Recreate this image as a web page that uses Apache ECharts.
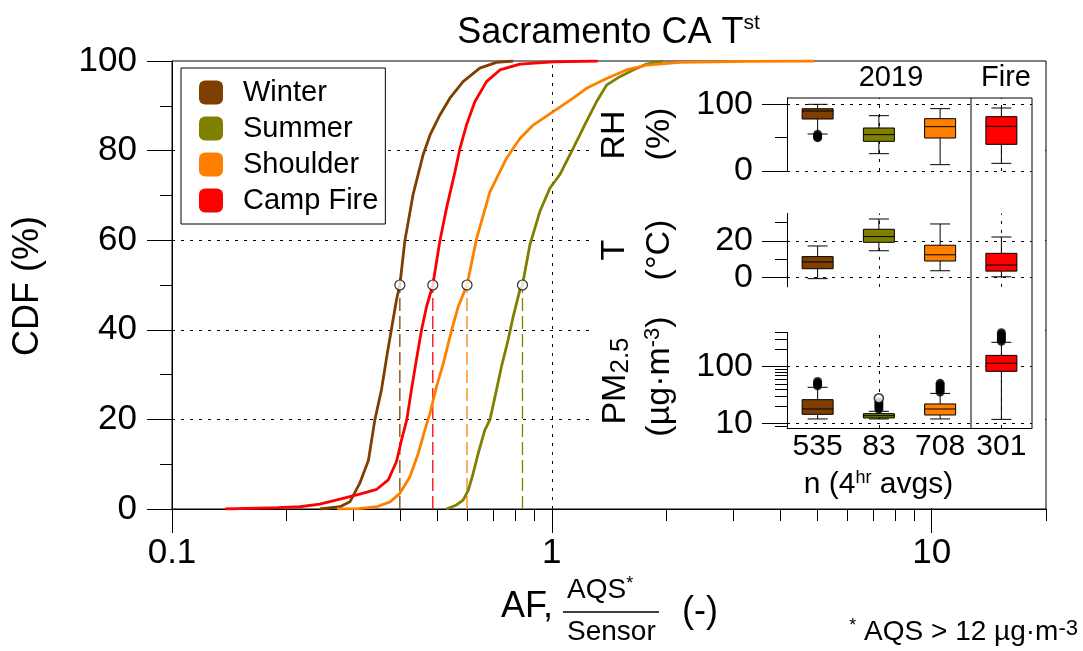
<!DOCTYPE html>
<html>
<head>
<meta charset="utf-8">
<script src="https://cdn.jsdelivr.net/npm/echarts@6/dist/echarts.min.js"></script>
<style>
  html, body { margin: 0; padding: 0; background: #fff; }
  #chart { width: 1083px; height: 651px; }
</style>
</head>
<body>
<div id="chart"></div>
<script>
const FONT = '"Liberation Sans", Arial, Helvetica, sans-serif';

// ---- seasons ----
const seasons = ['Winter', 'Summer', 'Shoulder', 'Camp Fire'];
const seasonColors = ['#7F3F00', '#808000', '#FF8000', '#FF0000'];

// ---- cumulative distributions of AF = AQS / Sensor: [AF, CDF %] ----
const cdfWinter = [
  [0.245, 0], [0.277, 0.5], [0.294, 1.6], [0.312, 5.7], [0.329, 10.9], [0.342, 19.9],
  [0.356, 26.6], [0.369, 34.8], [0.378, 40], [0.390, 46.7], [0.398, 50], [0.410, 59.7],
  [0.431, 70.1], [0.458, 79], [0.478, 83.5], [0.507, 87.9], [0.539, 91.7], [0.584, 95.4],
  [0.646, 98.4], [0.715, 99.7], [0.791, 100]
];
const cdfSummer = [
  [0.528, 0], [0.561, 0.9], [0.584, 2], [0.603, 4.2], [0.621, 8], [0.640, 12.4],
  [0.666, 17.6], [0.687, 19.9], [0.715, 26.6], [0.737, 31.8], [0.767, 37.7], [0.791, 42.9],
  [0.824, 48.9], [0.837, 50], [0.875, 58.9], [0.930, 66.4], [0.988, 71.6], [1.049, 74.6],
  [1.138, 80.5], [1.234, 86.5], [1.311, 90.9], [1.393, 94.6], [1.51, 96.5], [1.637, 98],
  [1.775, 99.3], [1.963, 100]
];
const cdfShoulder = [
  [0.272, 0], [0.31, 0.1], [0.346, 0.5], [0.375, 1.6], [0.398, 3.5], [0.423, 7.2],
  [0.445, 12.4], [0.463, 17.6], [0.478, 21.4], [0.497, 27.3], [0.518, 32.5], [0.545, 40],
  [0.567, 45.2], [0.598, 50], [0.634, 60.4], [0.687, 70.8], [0.76, 78.3], [0.824, 82.7],
  [0.893, 85.7], [1.008, 88.7], [1.138, 91.7], [1.234, 93.9], [1.393, 96.1], [1.572, 98],
  [1.775, 99.1], [2.17, 99.7], [3.3, 99.9], [4.9, 100]
];
const cdfFire = [
  [0.138, 0], [0.19, 0.3], [0.217, 0.5], [0.245, 1.1], [0.277, 2.2], [0.312, 3.3],
  [0.346, 4.4], [0.371, 6.5], [0.390, 10.6], [0.402, 15.4], [0.415, 19.9], [0.427, 26.6],
  [0.440, 33.3], [0.454, 40], [0.468, 45.2], [0.486, 50], [0.507, 59.7], [0.528, 67.1],
  [0.556, 75.3], [0.573, 80.5], [0.596, 85.7], [0.627, 90.9], [0.673, 95.4], [0.730, 98],
  [0.824, 99.3], [1.008, 99.8], [1.32, 100]
];
const cdfSets = [cdfWinter, cdfSummer, cdfShoulder, cdfFire];
const medianAF = [0.398, 0.837, 0.598, 0.486];

// ---- main axis ticks ----
const afMajorTicks = [0.1, 1, 10];
const afMinorTicks = [0.2, 0.3, 0.4, 0.5, 0.6, 0.7, 0.8, 0.9, 2, 3, 4, 5, 6, 7, 8, 9, 20];
const cdfGridValues = [20, 40, 60, 80];
const afGridValues = [1, 10];

// ---- inset box plots: [low whisker, Q1, median, Q3, high whisker] ----
const boxCategories = ['535', '83', '708', '301'];
const rhBoxes = [[55.5, 78, 90, 93.4, 100], [26, 44.5, 54.5, 64.5, 83], [9.5, 49.5, 66.5, 78.5, 93.5], [11.5, 40, 67, 81.5, 94.5]];
const tBoxes = [[-0.5, 4.9, 8.6, 11.5, 17.3], [14.7, 19.3, 22.4, 26.4, 32], [3.8, 9.1, 12.5, 17.7, 29.3], [0.5, 3.6, 6.9, 13.3, 22.2]];
const pmBoxes = [[12.1, 14.6, 18.1, 26.4, 43.5], [12.1, 12.6, 13.8, 15, 16.5], [12.1, 14.2, 18.1, 22.2, 34], [11.9, 83, 115, 158, 268]];
const rhOutliers = [[0, 55], [0, 53], [0, 51], [0, 50]];
const pmOutliers = [
  [0, 46], [0, 49], [0, 52], [0, 55],
  [1, 18], [1, 19.5], [1, 21], [1, 22.5], [1, 24],
  [2, 36], [2, 39], [2, 42], [2, 45], [2, 48], [2, 51],
  [3, 280], [3, 300], [3, 320], [3, 345], [3, 370], [3, 395]
];
const pmOpenOutliers = [[1, 27.9]];

const rhMajor = [0, 100], rhMinor = [50], rhGrid = [0, 100];
const tMajor = [0, 20], tMinor = [10, 30], tGrid = [0, 20];
const pmMajor = [10, 100], pmMinor = [9, 20, 30, 40, 50, 60, 70, 80, 90, 200, 300, 400], pmGrid = [10, 100];
const insetVLines = [1, 3];

// ---- helpers ----
const black = '#000';
const txt = (size) => ({ color: black, fontFamily: FONT, fontSize: size });

function drawBox(params, api) {
  const i = api.value(0);
  const pt = k => api.coord([i, api.value(k)]);
  const lo = pt(1), q1 = pt(2), md = pt(3), q3 = pt(4), hi = pt(5);
  const cx = lo[0], bw = 31, cw = 20;
  const ls = { stroke: black, lineWidth: 1 };
  return {
    type: 'group',
    children: [
      { type: 'line', shape: { x1: cx, y1: lo[1], x2: cx, y2: q1[1] }, style: ls },
      { type: 'line', shape: { x1: cx, y1: q3[1], x2: cx, y2: hi[1] }, style: ls },
      { type: 'line', shape: { x1: cx - cw / 2, y1: lo[1], x2: cx + cw / 2, y2: lo[1] }, style: ls },
      { type: 'line', shape: { x1: cx - cw / 2, y1: hi[1], x2: cx + cw / 2, y2: hi[1] }, style: ls },
      { type: 'rect', shape: { x: cx - bw / 2, y: q3[1], width: bw, height: q1[1] - q3[1] },
        style: { fill: seasonColors[params.dataIndex], stroke: black, lineWidth: 1 } },
      { type: 'line', shape: { x1: cx - bw / 2, y1: md[1], x2: cx + bw / 2, y2: md[1] }, style: ls }
    ]
  };
}

function insetGridLines(hVals) {
  return {
    silent: true, symbol: 'none', z: 6,
    label: { show: false },
    lineStyle: { color: black, type: [3, 6], width: 1 },
    data: hVals.map(v => ({ yAxis: v })).concat(insetVLines.map(v => ({ xAxis: v })))
  };
}

function majorAxis(gridIndex, type, min, max, major) {
  return {
    type, gridIndex, min, max, position: 'left', z: 6,
    axisLine: { show: true, onZero: false, lineStyle: { color: black, width: 1 } },
    axisTick: { show: true, customValues: major, length: 25, lineStyle: { color: black, width: 1 } },
    axisLabel: { customValues: major, margin: 34, ...txt(34), formatter: v => String(v) },
    splitLine: { show: false }, minorTick: { show: false }
  };
}
function minorAxis(gridIndex, type, min, max, minor) {
  return {
    type, gridIndex, min, max, position: 'left', z: 6,
    axisLine: { show: false },
    axisTick: { show: true, customValues: minor, length: 12, lineStyle: { color: black, width: 1 } },
    axisLabel: { show: false },
    splitLine: { show: false }
  };
}

const grids = [
  { left: 172, top: 61, width: 874, height: 448, show: true, borderColor: black, borderWidth: 1, backgroundColor: 'transparent' },
  { left: 787, top: 98, width: 245, height: 73 },
  { left: 787, top: 213.5, width: 245, height: 73.4 },
  { left: 787, top: 332.4, width: 245, height: 95.6 }
].map(g => Object.assign({ containLabel: false, outerBoundsMode: 'none' }, g));

const xAxes = [
  {
    type: 'log', logBase: 10, gridIndex: 0, min: 0.1, max: 20, position: 'bottom',
    axisLine: { show: true, onZero: false, lineStyle: { color: black, width: 1 } },
    axisTick: { show: true, customValues: afMajorTicks, length: 24, lineStyle: { color: black, width: 1 } },
    axisLabel: { customValues: afMajorTicks, margin: 27, ...txt(35), formatter: v => String(v) },
    splitLine: { show: false }
  },
  {
    type: 'log', logBase: 10, gridIndex: 0, min: 0.1, max: 20, position: 'bottom',
    axisLine: { show: false },
    axisTick: { show: true, customValues: afMinorTicks, length: 12, lineStyle: { color: black, width: 1 } },
    axisLabel: { show: false }, splitLine: { show: false }
  },
  { type: 'category', gridIndex: 1, data: boxCategories, show: false },
  { type: 'category', gridIndex: 2, data: boxCategories, show: false },
  {
    type: 'category', gridIndex: 3, data: boxCategories, z: 6,
    axisLine: { show: true, lineStyle: { color: black, width: 1 } },
    axisTick: { show: false },
    axisLabel: { margin: 4, interval: 0, hideOverlap: false, ...txt(30) }
  }
];

const yAxes = [
  {
    type: 'value', gridIndex: 0, min: 0, max: 100, interval: 20,
    axisLine: { show: true, onZero: false, lineStyle: { color: black, width: 1 } },
    axisTick: { show: true, length: 25, lineStyle: { color: black, width: 1 } },
    minorTick: { show: true, splitNumber: 2, length: 12, lineStyle: { color: black, width: 1 } },
    axisLabel: { margin: 35, ...txt(35) },
    splitLine: { show: false }, minorSplitLine: { show: false }
  },
  majorAxis(1, 'value', 0, 109.5, rhMajor),
  minorAxis(1, 'value', 0, 109.5, rhMinor),
  majorAxis(2, 'value', -5, 35, tMajor),
  minorAxis(2, 'value', -5, 35, tMinor),
  majorAxis(3, 'log', 8.4, 400, pmMajor),
  minorAxis(3, 'log', 8.4, 400, pmMinor)
];

const series = [];

// dashed reference lines of the main panel
series.push({
  type: 'line', name: 'grid', xAxisIndex: 0, yAxisIndex: 0, data: [], z: 1,
  markLine: {
    silent: true, symbol: 'none', z: 1, animation: false,
    label: { show: false },
    lineStyle: { color: black, type: [3, 6], width: 1 },
    data: cdfGridValues.map(v => [{ coord: [0.1, v] }, { coord: [20, v] }])
      .concat(afGridValues.map(v => [{ coord: [v, 0] }, { coord: [v, 100] }]))
  }
});

// median drop lines
seasons.forEach((s, i) => {
  series.push({
    type: 'line', name: 'median-' + i, xAxisIndex: 0, yAxisIndex: 0, z: 3,
    data: [[medianAF[i], 0], [medianAF[i], 50]],
    showSymbol: false, symbol: 'none', silent: true,
    lineStyle: { color: seasonColors[i], width: 1.3, type: [13, 5] }
  });
});

// CDF curves
seasons.forEach((s, i) => {
  series.push({
    type: 'line', name: s, xAxisIndex: 0, yAxisIndex: 0, z: 4,
    data: cdfSets[i], showSymbol: false, symbol: 'none',
    color: seasonColors[i],
    itemStyle: { color: seasonColors[i] },
    lineStyle: { color: seasonColors[i], width: 2.8 }
  });
});

// median markers
series.push({
  type: 'scatter', name: 'medians', xAxisIndex: 0, yAxisIndex: 0, z: 5,
  data: medianAF.map(m => [m, 50]), symbol: 'circle', symbolSize: 10,
  itemStyle: { color: '#fff', borderColor: black, borderWidth: 1.2 }
});

// inset box plots
[[rhBoxes, 2, 1, rhGrid], [tBoxes, 3, 3, tGrid], [pmBoxes, 4, 5, pmGrid]].forEach(([boxes, xi, yi, gv]) => {
  series.push({
    type: 'custom', name: 'box-' + xi, xAxisIndex: xi, yAxisIndex: yi, z: 7,
    renderItem: drawBox,
    encode: { x: 0, y: [1, 2, 3, 4, 5] },
    data: boxes.map((b, i) => [i].concat(b)),
    markLine: insetGridLines(gv)
  });
});

series.push({
  type: 'scatter', name: 'rh-out', xAxisIndex: 2, yAxisIndex: 1, z: 8,
  data: rhOutliers, symbolSize: 9, itemStyle: { color: black }
});
series.push({
  type: 'scatter', name: 'pm-out', xAxisIndex: 4, yAxisIndex: 5, z: 8,
  data: pmOutliers, symbolSize: 9, itemStyle: { color: black }
});
series.push({
  type: 'scatter', name: 'pm-out-open', xAxisIndex: 4, yAxisIndex: 5, z: 8,
  data: pmOpenOutliers, symbolSize: 9,
  itemStyle: { color: '#fff', borderColor: black, borderWidth: 1.5 }
});

// text helpers for free-standing labels
function label(text, x, y, size, opts) {
  const o = opts || {};
  return {
    type: 'text', z: 9, silent: true,
    x, y, rotation: o.rotation || 0,
    style: Object.assign({
      text, fill: black, fontFamily: FONT, fontSize: size,
      align: o.align || 'center', verticalAlign: 'middle',
      textAlign: o.align || 'center', textVerticalAlign: 'middle'
    }, o.style || {})
  };
}
const R90 = Math.PI / 2;

const graphics = [
  // white backing of the inset panel
  { type: 'rect', z: 2, silent: true, shape: { x: 590, y: 65, width: 455, height: 443 }, style: { fill: '#fff' } },
  // inset frame and season / fire divider
  { type: 'polyline', z: 9, silent: true, shape: { points: [[787, 98], [1032, 98], [1032, 428]] }, style: { stroke: black, lineWidth: 1, fill: null } },
  { type: 'line', z: 9, silent: true, shape: { x1: 971, y1: 98, x2: 971, y2: 428 }, style: { stroke: black, lineWidth: 1 } },

  // title
  label('{a|Sacramento CA T}{s|st}', 608.5, 33, 36, {
    style: { rich: { a: { fontSize: 36, lineHeight: 40, fontFamily: FONT, fill: black }, s: { fontSize: 21, lineHeight: 15, verticalAlign: 'top', fontFamily: FONT, fill: black } } }
  }),

  // main axis titles
  label('CDF (%)', 28.5, 286, 36, { rotation: R90 }),
  label('AF,', 501, 607.5, 36, { align: 'left' }),
  label('{a|AQS}{s|*}', 567, 590, 28, {
    align: 'left',
    style: { rich: { a: { fontSize: 28, lineHeight: 30, fontFamily: FONT, fill: black }, s: { fontSize: 18, lineHeight: 6, verticalAlign: 'top', fontFamily: FONT, fill: black } } }
  }),
  { type: 'line', z: 9, silent: true, shape: { x1: 563, y1: 612, x2: 659, y2: 612 }, style: { stroke: black, lineWidth: 1.5 } },
  label('Sensor', 567, 632.5, 28, { align: 'left' }),
  label('(-)', 682, 612, 36, { align: 'left' }),

  // footnote
  label('{s|*}{a| AQS > 12 µg·m}{t|-3}', 1078, 632.5, 28, {
    align: 'right',
    style: { rich: {
      a: { fontSize: 28, lineHeight: 30, fontFamily: FONT, fill: black },
      s: { fontSize: 18, lineHeight: 8, verticalAlign: 'top', fontFamily: FONT, fill: black },
      t: { fontSize: 22, lineHeight: 2, verticalAlign: 'top', fontFamily: FONT, fill: black }
    } }
  }),

  // inset headers and axis titles
  label('2019', 891, 78, 29),
  label('Fire', 1006, 78, 29),
  label('{a|n (4}{s|hr}{a| avgs)}', 878.5, 485, 30, {
    style: { rich: { a: { fontSize: 30, lineHeight: 32, fontFamily: FONT, fill: black }, s: { fontSize: 18, lineHeight: 13.6, verticalAlign: 'top', fontFamily: FONT, fill: black } } }
  }),
  label('RH', 615, 135, 34, { rotation: R90 }),
  label('(%)', 659.5, 134, 34, { rotation: R90 }),
  label('T', 615, 250, 34, { rotation: R90 }),
  label('(°C)', 659.5, 250, 34, { rotation: R90 }),
  label('{a|PM}{b|2.5}', 616, 381, 34, {
    rotation: R90,
    style: { rich: { a: { fontSize: 34, lineHeight: 36, fontFamily: FONT, fill: black }, b: { fontSize: 26, lineHeight: 22, verticalAlign: 'bottom', fontFamily: FONT, fill: black } } }
  }),
  label('{a|(µg·m}{t|-3}{a|)}', 660, 376.5, 34, {
    rotation: R90,
    style: { rich: { a: { fontSize: 34, lineHeight: 36, fontFamily: FONT, fill: black }, t: { fontSize: 22, lineHeight: 14, verticalAlign: 'top', fontFamily: FONT, fill: black } } }
  })
];

const chart = echarts.init(document.getElementById('chart'), null, { renderer: 'canvas' });
chart.setOption({
  backgroundColor: '#fff',
  animation: false,
  textStyle: { fontFamily: FONT, color: black },
  grid: grids,
  xAxis: xAxes,
  yAxis: yAxes,
  legend: {
    data: seasons, orient: 'vertical', left: 181, top: 68, z: 7,
    padding: [10, 7, 9, 18], itemGap: 7, itemWidth: 24, itemHeight: 24,
    icon: 'roundRect', selectedMode: false,
    backgroundColor: '#fff', borderColor: black, borderWidth: 1,
    itemStyle: { borderWidth: 0 },
    textStyle: { fontSize: 29, lineHeight: 28, color: black, fontFamily: FONT, padding: [0, 0, 0, 15] }
  },
  graphic: { elements: graphics },
  series
});
</script>
</body>
</html>
